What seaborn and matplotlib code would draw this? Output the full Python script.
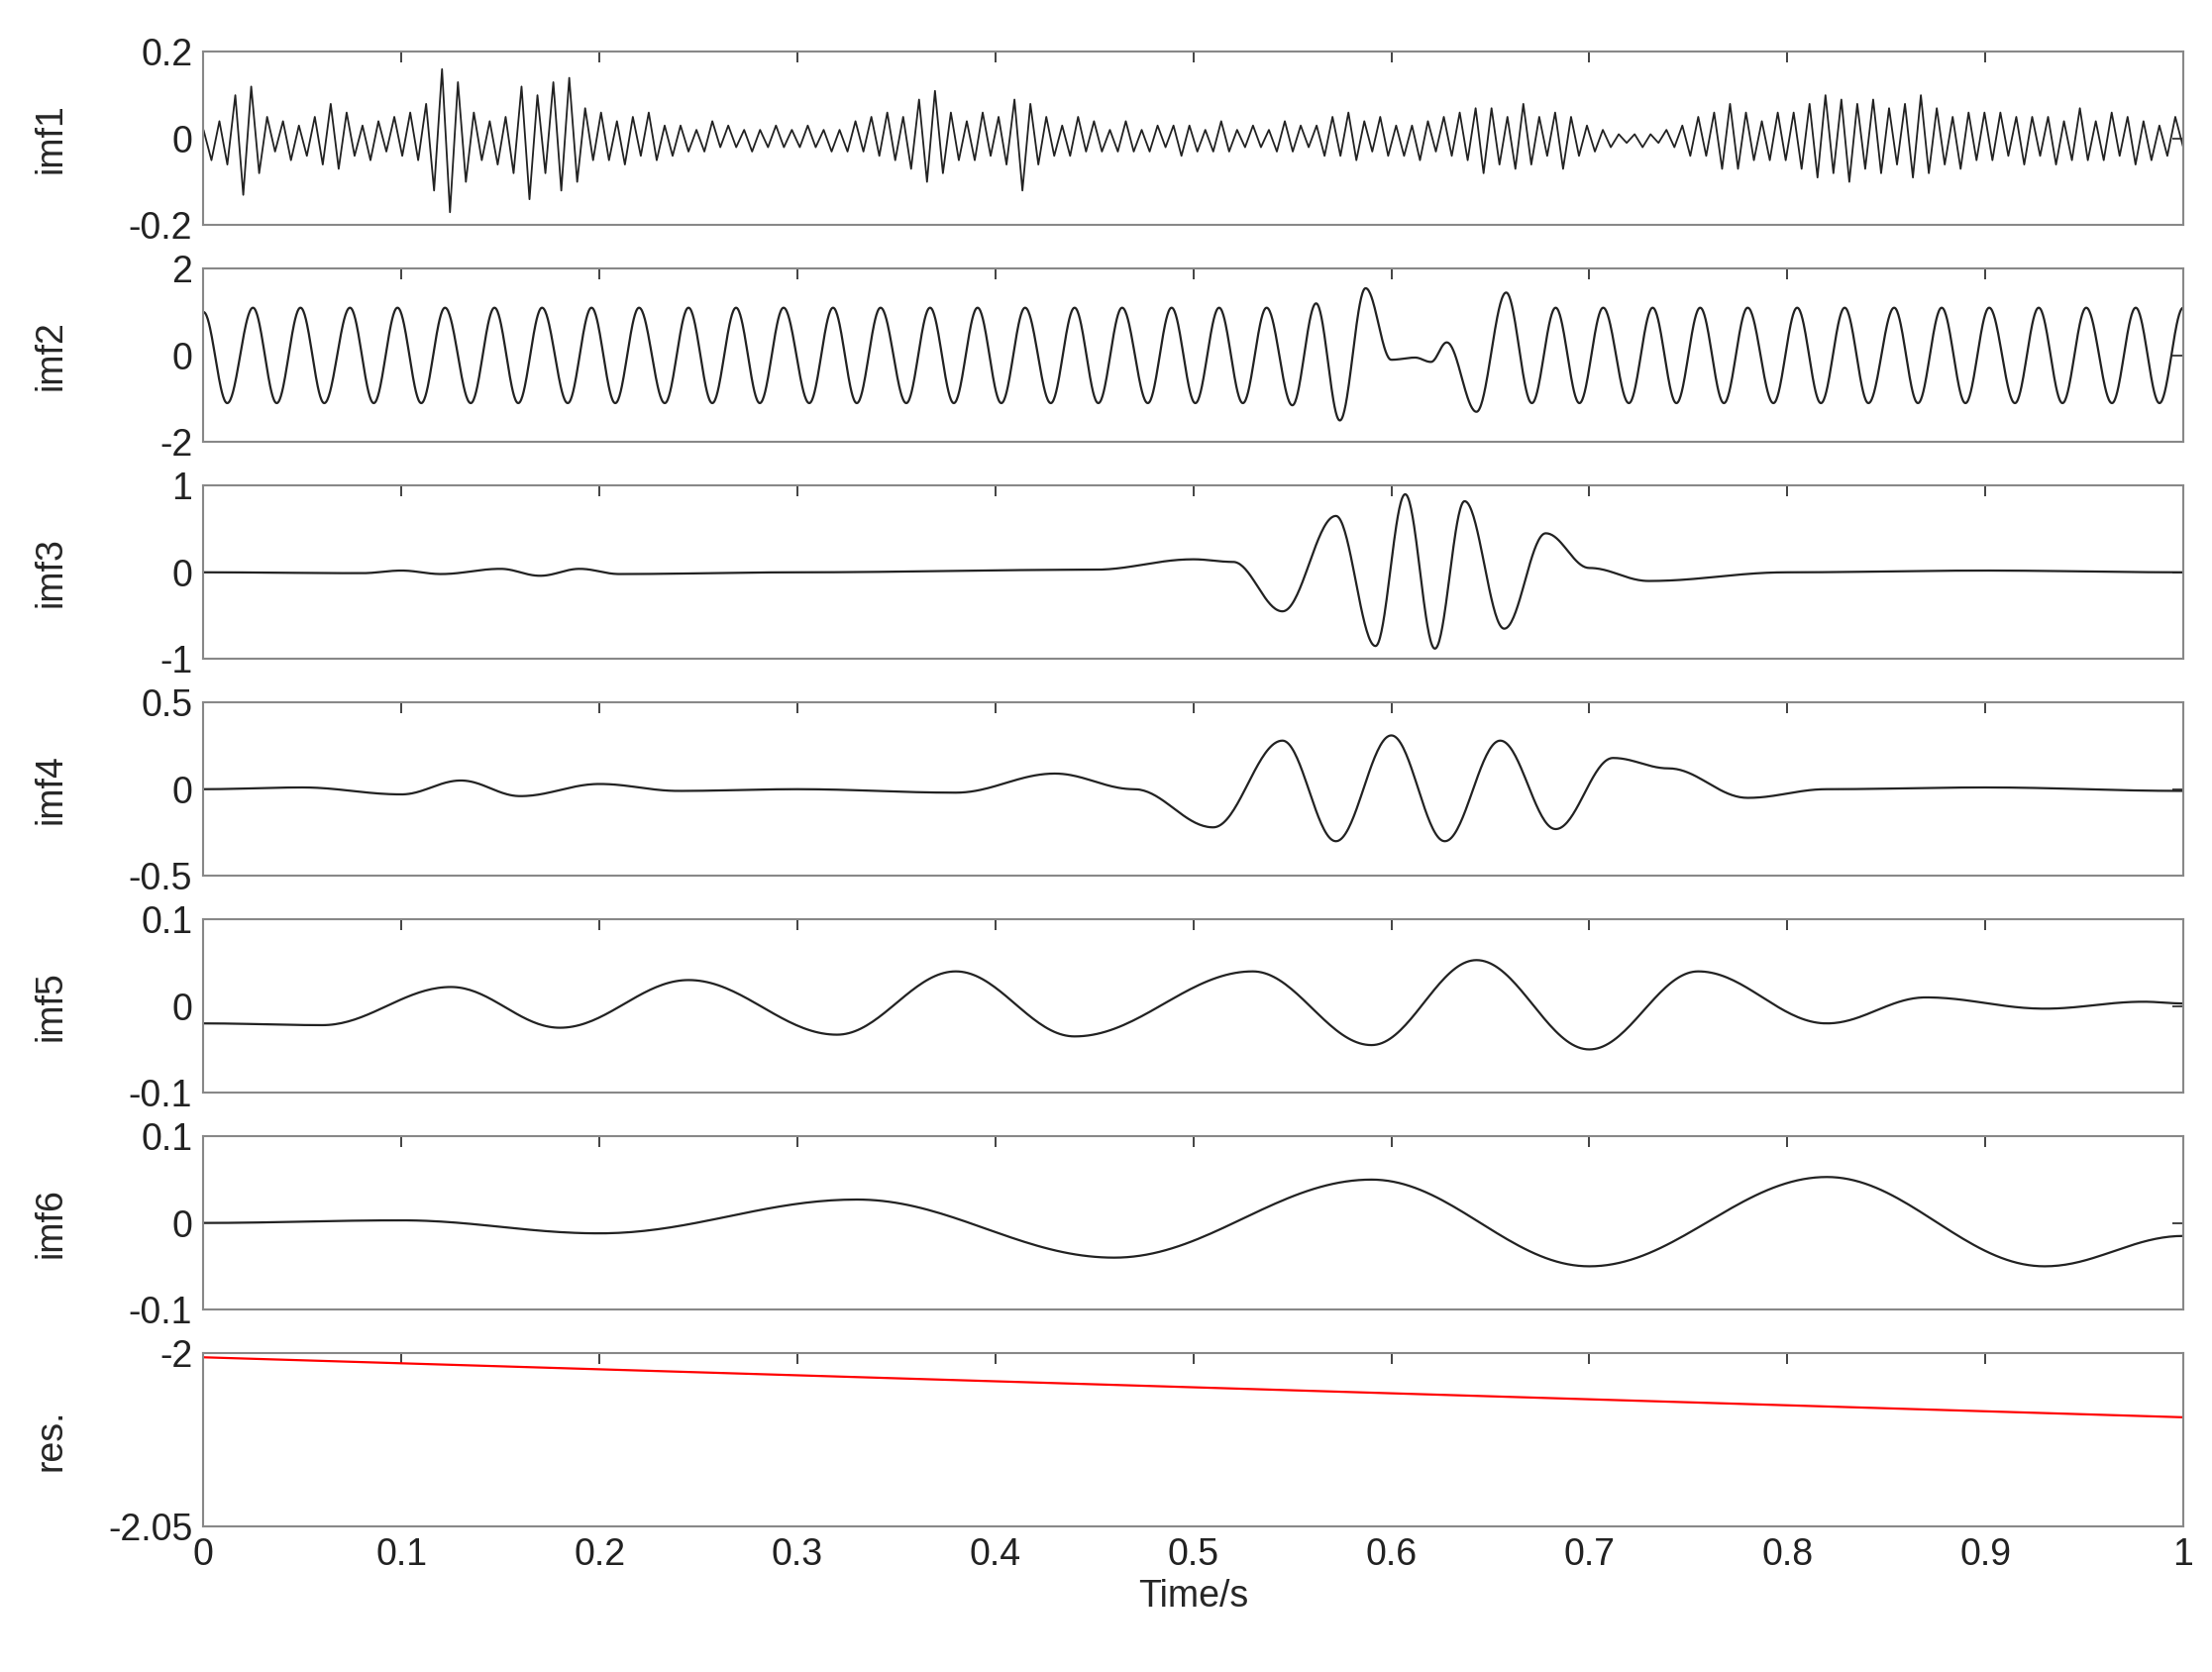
import numpy as np
import pandas as pd
import matplotlib
matplotlib.use("Agg")
import matplotlib.pyplot as plt
import seaborn as sns

# imf1: zigzag samples, evenly spaced over 0..1 s
imf1 = [
    0.02, -0.05, 0.04, -0.06, 0.1, -0.13, 0.12, -0.08, 0.05, -0.03, 0.04, -0.05, 0.03, -0.04, 0.05, -0.06, 0.08, -0.07, 0.06, -0.04, 0.03, -0.05, 0.04, -0.03, 0.05,
    -0.04, 0.06, -0.05, 0.08, -0.12, 0.16, -0.17, 0.13, -0.1, 0.06, -0.05, 0.04, -0.06, 0.05, -0.08, 0.12, -0.14, 0.1, -0.08, 0.13, -0.12, 0.14, -0.1, 0.07, -0.05,
    0.06, -0.05, 0.04, -0.06, 0.05, -0.04, 0.06, -0.05, 0.03, -0.04, 0.03, -0.03, 0.02, -0.03, 0.04, -0.02, 0.03, -0.02, 0.02, -0.03, 0.02, -0.02, 0.03, -0.02, 0.02,
    -0.02, 0.03, -0.02, 0.02, -0.03, 0.02, -0.03, 0.04, -0.03, 0.05, -0.04, 0.06, -0.05, 0.05, -0.07, 0.09, -0.1, 0.11, -0.08, 0.06, -0.05, 0.04, -0.05, 0.06, -0.04,
    0.05, -0.06, 0.09, -0.12, 0.08, -0.06, 0.05, -0.04, 0.03, -0.04, 0.05, -0.03, 0.04, -0.03, 0.02, -0.03, 0.04, -0.03, 0.02, -0.03, 0.03, -0.02, 0.03, -0.04, 0.03,
    -0.03, 0.02, -0.03, 0.04, -0.03, 0.02, -0.02, 0.03, -0.02, 0.02, -0.03, 0.04, -0.03, 0.03, -0.02, 0.03, -0.04, 0.05, -0.04, 0.06, -0.05, 0.04, -0.03, 0.05, -0.04,
    0.03, -0.04, 0.03, -0.05, 0.04, -0.03, 0.05, -0.04, 0.06, -0.05, 0.07, -0.08, 0.07, -0.06, 0.05, -0.07, 0.08, -0.06, 0.05, -0.04, 0.06, -0.07, 0.05, -0.04, 0.03,
    -0.03, 0.02, -0.02, 0.01, -0.01, 0.01, -0.02, 0.01, -0.01, 0.02, -0.02, 0.03, -0.04, 0.05, -0.04, 0.06, -0.07, 0.08, -0.07, 0.06, -0.05, 0.04, -0.05, 0.06, -0.05,
    0.06, -0.07, 0.08, -0.09, 0.1, -0.08, 0.09, -0.1, 0.08, -0.07, 0.09, -0.08, 0.07, -0.06, 0.08, -0.09, 0.1, -0.08, 0.07, -0.06, 0.05, -0.07, 0.06, -0.05, 0.06,
    -0.05, 0.06, -0.04, 0.05, -0.06, 0.05, -0.04, 0.05, -0.06, 0.04, -0.05, 0.07, -0.05, 0.04, -0.05, 0.06, -0.04, 0.05, -0.06, 0.04, -0.05, 0.03, -0.04, 0.05, -0.02,
]

# imf2..imf6: extrema (time, value)
imf2_t = [0.0, 0.012, 0.025, 0.037, 0.049, 0.061, 0.074, 0.086, 0.098, 0.110, 0.122, 0.135, 0.147, 0.159,
          0.171, 0.184, 0.196, 0.208, 0.220, 0.233, 0.245, 0.257, 0.269, 0.281, 0.293, 0.306, 0.318, 0.330,
          0.342, 0.355, 0.367, 0.379, 0.391, 0.403, 0.415, 0.428, 0.440, 0.452, 0.464, 0.477, 0.489, 0.501,
          0.513, 0.525, 0.537, 0.550, 0.562, 0.574, 0.587, 0.600, 0.612, 0.620, 0.628, 0.643, 0.658, 0.671,
          0.683, 0.695, 0.707, 0.720, 0.732, 0.744, 0.756, 0.768, 0.780, 0.793, 0.805, 0.817, 0.829, 0.841,
          0.854, 0.866, 0.878, 0.890, 0.902, 0.915, 0.927, 0.939, 0.951, 0.964, 0.976, 0.988, 1.0]
imf2_v = [1.0, -1.1, 1.1, -1.1, 1.1, -1.1, 1.1, -1.1, 1.1, -1.1, 1.1, -1.1, 1.1, -1.1,
          1.1, -1.1, 1.1, -1.1, 1.1, -1.1, 1.1, -1.1, 1.1, -1.1, 1.1, -1.1, 1.1, -1.1,
          1.1, -1.1, 1.1, -1.1, 1.1, -1.1, 1.1, -1.1, 1.1, -1.1, 1.1, -1.1, 1.1, -1.1,
          1.1, -1.1, 1.1, -1.15, 1.2, -1.5, 1.55, -0.1, -0.05, -0.15, 0.3, -1.3, 1.45, -1.1,
          1.1, -1.1, 1.1, -1.1, 1.1, -1.1, 1.1, -1.1, 1.1, -1.1, 1.1, -1.1, 1.1, -1.1,
          1.1, -1.1, 1.1, -1.1, 1.1, -1.1, 1.1, -1.1, 1.1, -1.1, 1.1, -1.1, 1.1]
imf3_t = [0.0, 0.08, 0.1, 0.12, 0.15, 0.17, 0.19, 0.21, 0.3, 0.45, 0.5, 0.52, 0.545, 0.572, 0.592,
          0.607, 0.622, 0.637, 0.657, 0.678, 0.70, 0.73, 0.8, 0.9, 1.0]
imf3_v = [0.0, -0.01, 0.02, -0.02, 0.04, -0.04, 0.04, -0.02, 0.0, 0.03, 0.15, 0.12, -0.45, 0.65, -0.85,
          0.9, -0.88, 0.82, -0.65, 0.45, 0.05, -0.1, 0.0, 0.02, 0.0]
imf4_t = [0.0, 0.05, 0.1, 0.13, 0.16, 0.2, 0.24, 0.3, 0.38, 0.43, 0.47, 0.51, 0.545, 0.572,
          0.6, 0.627, 0.655, 0.683, 0.712, 0.74, 0.78, 0.82, 0.9, 1.0]
imf4_v = [0.0, 0.01, -0.03, 0.05, -0.04, 0.03, -0.01, 0.0, -0.02, 0.09, 0.0, -0.22, 0.28, -0.3,
          0.31, -0.3, 0.28, -0.23, 0.18, 0.12, -0.05, 0.0, 0.01, -0.01]
imf5_t = [0.0, 0.06, 0.125, 0.18, 0.245, 0.32, 0.38, 0.44, 0.53, 0.59, 0.643, 0.7, 0.755,
          0.82, 0.87, 0.93, 0.98, 1.0]
imf5_v = [-0.02, -0.022, 0.022, -0.025, 0.03, -0.033, 0.04, -0.035, 0.04, -0.045, 0.053, -0.05, 0.04,
          -0.02, 0.01, -0.003, 0.005, 0.003]
imf6_t = [0.0, 0.1, 0.2, 0.33, 0.46, 0.59, 0.7, 0.82, 0.93, 1.0]
imf6_v = [0.0, 0.003, -0.012, 0.027, -0.04, 0.05, -0.05, 0.053, -0.05, -0.015]
res_t = [0.0, 1.0]
res_v = [-2.0012, -2.0185]

names = ["imf1", "imf2", "imf3", "imf4", "imf5", "imf6", "res."]
ylims = [(-0.2, 0.2), (-2, 2), (-1, 1), (-0.5, 0.5), (-0.1, 0.1), (-0.1, 0.1), (-2.05, -2)]
yticks = [[-0.2, 0, 0.2], [-2, 0, 2], [-1, 0, 1], [-0.5, 0, 0.5], [-0.1, 0, 0.1], [-0.1, 0, 0.1], [-2.05, -2]]
ytlabels = [["-0.2", "0", "0.2"], ["-2", "0", "2"], ["-1", "0", "1"], ["-0.5", "0", "0.5"],
            ["-0.1", "0", "0.1"], ["-0.1", "0", "0.1"], ["-2.05", "-2"]]


def cos_segments(ts, vs, n=40):
    # smooth half-cosine drawing between consecutive extrema
    xs, ys = [], []
    for i in range(len(ts) - 1):
        s = np.linspace(0, 1, n, endpoint=False)
        xs.extend(ts[i] + (ts[i + 1] - ts[i]) * s)
        ys.extend(vs[i] + (vs[i + 1] - vs[i]) * (1 - np.cos(np.pi * s)) / 2)
    xs.append(ts[-1])
    ys.append(vs[-1])
    return pd.DataFrame({"t": xs, "v": ys})


frames = [pd.DataFrame({"t": np.linspace(0, 1, len(imf1)), "v": imf1}),
          cos_segments(imf2_t, imf2_v), cos_segments(imf3_t, imf3_v),
          cos_segments(imf4_t, imf4_v), cos_segments(imf5_t, imf5_v),
          cos_segments(imf6_t, imf6_v), pd.DataFrame({"t": res_t, "v": res_v})]

sns.set_style("white")
plt.rcParams["font.family"] = ["Liberation Sans", "DejaVu Sans"]

fig = plt.figure(figsize=(22.33, 16.88), dpi=100)
left, right, top, bottom = 0.092, 0.987, 0.969, 0.087
gap = 0.026
h = (top - bottom - 6 * gap) / 7

for i in range(7):
    y0 = top - (i + 1) * h - i * gap
    ax = fig.add_axes([left, y0, right - left, h])
    color = "red" if i == 6 else "#222222"
    sns.lineplot(data=frames[i], x="t", y="v", ax=ax, color=color,
                 linewidth=1.3 if i == 0 else 1.6, estimator=None, sort=False)
    ax.set_xlim(0, 1)
    ax.set_ylim(*ylims[i])
    ax.set_yticks(yticks[i])
    ax.set_yticklabels(ytlabels[i])
    ax.set_xticks(np.round(np.arange(0, 1.01, 0.1), 1))
    ax.tick_params(direction="in", length=8, width=1.2, top=True, right=True,
                   labelsize=27, colors="#222222", pad=8)
    ax.set_ylabel(names[i], fontsize=27)
    ax.yaxis.set_label_coords(-0.068, 0.5)
    ax.set_xlabel("")
    for sp in ax.spines.values():
        sp.set_color("#888888")
        sp.set_linewidth(1.5)
    if i < 6:
        ax.set_xticklabels([])
    else:
        ax.set_xticklabels(["0", "0.1", "0.2", "0.3", "0.4", "0.5", "0.6", "0.7", "0.8", "0.9", "1"])
        ax.set_xlabel("Time/s", fontsize=27, labelpad=4)

fig.savefig("out.png", dpi=100, facecolor="white")
